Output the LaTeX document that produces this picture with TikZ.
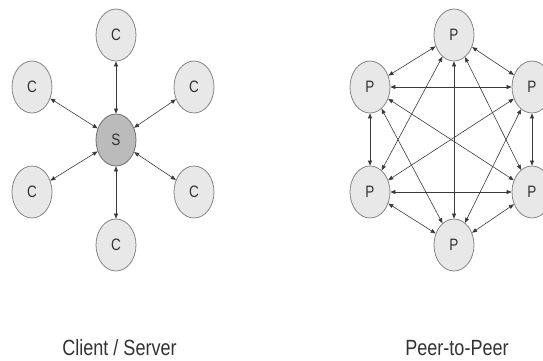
\documentclass[tikz,border=0pt]{standalone}
\usepackage{fontspec}
\setmainfont{Liberation Sans}
\newfontfamily\narrowfont[FakeStretch=0.82]{Liberation Sans}
\usetikzlibrary{shapes.geometric,arrows.meta}
\definecolor{nodefill}{HTML}{E8E8E8}
\definecolor{nodeline}{HTML}{858585}
\definecolor{serverfill}{HTML}{BBBBBB}
\definecolor{serverline}{HTML}{6E6E6E}
\definecolor{linkgray}{HTML}{3A3A3A}
\definecolor{textgray}{HTML}{333333}
\tikzset{
  peer/.style={ellipse, draw=nodeline, fill=nodefill, line width=0.8pt,
    minimum width=40pt, minimum height=52pt, inner sep=0pt,
    font=\narrowfont\fontsize{16.5}{16.5}\selectfont, text=textgray},
  server/.style={peer, fill=serverfill, draw=serverline},
  link/.style={<->, >={Triangle[length=5pt,width=4pt]}, draw=linkgray, line width=0.6pt},
  caption/.style={anchor=base, font=\narrowfont\fontsize{22}{22}\selectfont, text=textgray}
}
\begin{document}
\begin{tikzpicture}[x=1pt, y=-1pt]
\useasboundingbox (0, 0) rectangle (543, 360);
\node[server] (s) at (116, 140) {S};
\node[peer] (ct) at (116, 35) {C};
\node[peer] (cul) at (32, 87) {C};
\node[peer] (cur) at (194, 87) {C};
\node[peer] (cll) at (32, 192) {C};
\node[peer] (clr) at (194, 192) {C};
\node[peer] (cb) at (116, 245) {C};
\foreach \c in {ct, cul, cur, cll, clr, cb}
  \draw[link] (s) -- (\c);
\node[peer] (pt) at (454, 35) {P};
\node[peer] (pul) at (370, 87) {P};
\node[peer] (pur) at (532, 87) {P};
\node[peer] (pll) at (370, 192) {P};
\node[peer] (plr) at (532, 192) {P};
\node[peer] (pb) at (454, 245) {P};
\foreach \a/\b in {pt/pul, pt/pur, pt/pll, pt/plr, pt/pb, pul/pur, pul/pll, pul/plr,
  pul/pb, pur/pll, pur/plr, pur/pb, pll/plr, pll/pb, plr/pb}
  \draw[link] (\a) -- (\b);
\node[caption] (cslabel) at (119.5, 355) {Client / Server};
\node[caption] (p2plabel) at (457, 355) {Peer-to-Peer};
\end{tikzpicture}
\end{document}
